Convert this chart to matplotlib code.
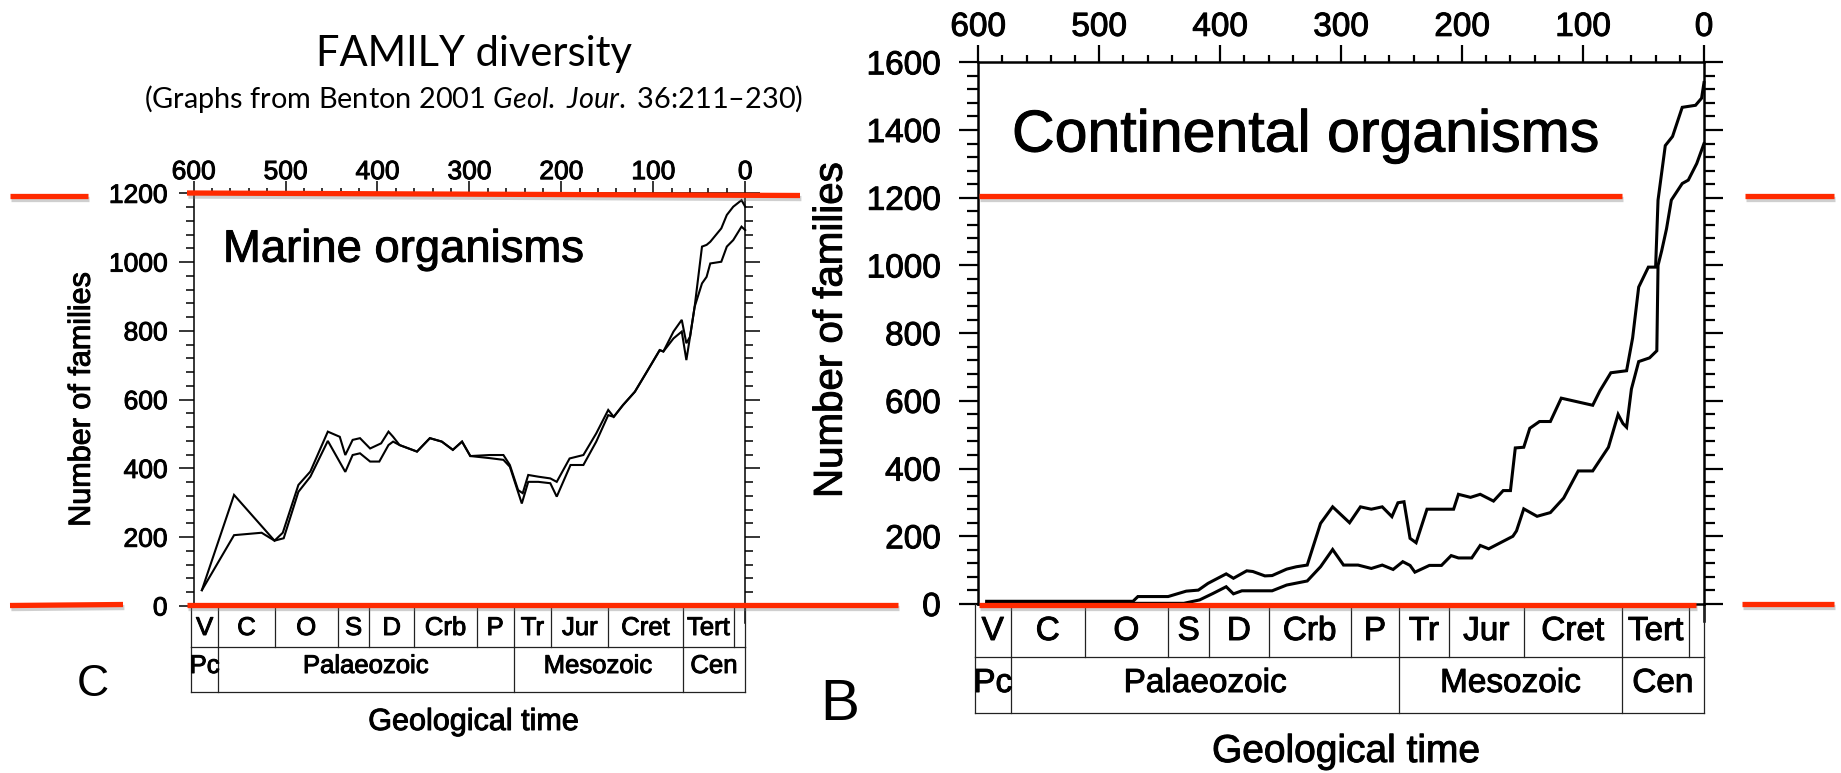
import matplotlib
matplotlib.use("Agg")
import matplotlib.pyplot as plt
from matplotlib.lines import Line2D
from matplotlib.ticker import MultipleLocator
from matplotlib.transforms import blended_transform_factory
import matplotlib.patheffects as pe

# ---------------------------------------------------------------- data
# Marine families (Ma, number of families): upper and lower estimates
marine_upper_ma = [591, 556, 512, 503, 486, 473, 454, 441, 435, 427, 419, 408, 396, 388, 383,
                   376, 357, 343, 330, 318, 308, 299, 278, 263, 256, 247, 242, 236, 225, 212,
                   205, 191, 176, 162, 149, 143, 133, 120, 107, 93, 89, 78, 69, 64, 60, 55,
                   47, 42, 38, 26, 20, 13, 4, 0]
marine_upper_n = [46, 323, 190, 213, 352, 391, 507, 492, 439, 483, 488, 458, 473, 507, 492,
                  468, 449, 488, 478, 454, 478, 436, 439, 439, 410, 337, 328, 381, 376, 371,
                  361, 429, 439, 502, 570, 550, 584, 623, 681, 744, 740, 798, 832, 764, 783, 870,
                  1045, 1050, 1059, 1098, 1137, 1161, 1180, 1161]

marine_lower_ma = [591, 556, 526, 512, 502, 486, 473, 454, 435, 427, 419, 408, 398, 388, 383,
                   376, 357, 343, 330, 318, 308, 299, 278, 263, 256, 243, 236, 225, 212, 205,
                   190, 176, 162, 149, 143, 133, 120, 107, 93, 89, 78, 69, 64, 60, 55, 47, 42,
                   38, 26, 20, 13, 4, 0]
marine_lower_n = [46, 206, 213, 190, 197, 332, 376, 480, 390, 439, 444, 420, 420, 468, 478,
                  468, 449, 488, 478, 454, 478, 436, 430, 425, 405, 298, 361, 361, 357, 318,
                  410, 410, 478, 555, 550, 584, 623, 681, 744, 740, 778, 798, 715, 783, 870, 938,
                  957, 996, 1001, 1045, 1064, 1103, 1093]

# Continental families (Ma, number of families): upper and lower estimates
cont_upper_ma = [593, 472, 468, 443, 428, 418, 410, 395, 389, 378, 373, 363, 357, 345, 337,
                 328, 317, 307, 293, 284, 275, 266, 258, 253, 248, 243, 238, 229, 207, 203,
                 193, 185, 174, 166, 160, 156, 149, 144, 136, 127, 118, 92, 86, 77, 64, 59,
                 54, 46, 40, 38, 32, 26, 18, 7, 2, 0]
cont_upper_n = [8, 8, 22, 22, 38, 41, 61, 89, 76, 98, 96, 83, 84, 103, 110,
                115, 238, 287, 240, 287, 280, 287, 258, 299, 302, 194, 181, 280, 280, 324,
                315, 324, 304, 335, 335, 461, 463, 519, 539, 539, 608, 587, 630, 683, 689, 786,
                936, 995, 995, 1193, 1354, 1381, 1467, 1473, 1494, 1540]

cont_lower_ma = [593, 430, 417, 406, 395, 389, 382, 357, 345, 328, 317, 307, 298, 286, 275,
                 266, 257, 249, 243, 239, 227, 217, 209, 203, 192, 185, 178, 158, 155, 149,
                 138, 127, 116, 104, 92, 79, 71, 67, 64, 60, 54, 45, 39, 38, 35, 31, 27, 18,
                 13, 6, 0]
cont_lower_n = [2, 2, 12, 31, 51, 30, 39, 39, 56, 68, 110, 161, 115, 115, 105,
                115, 102, 125, 114, 94, 114, 114, 143, 136, 136, 173, 163, 200, 216, 281,
                259, 270, 313, 393, 393, 463, 560, 533, 522, 635, 716, 727, 748, 1000, 1043,
                1108, 1193, 1242, 1252, 1301, 1360]

# Geological time scale (Ma boundaries and names)
period_bounds = [603, 573, 512, 443, 409, 360, 292, 252, 211, 149, 68, 12, 0]
period_labels = ["V", "C", "O", "S", "D", "Crb", "P", "Tr", "Jur", "Cret", "Tert", ""]
era_bounds = [603, 573, 252, 68, 0]
era_labels = ["Pc", "Palaeozoic", "Mesozoic", "Cen"]

x_ticks = [600, 500, 400, 300, 200, 100, 0]

# ---------------------------------------------------------------- figure
W, H, DPI = 1841, 773, 100
fig = plt.figure(figsize=(W / DPI, H / DPI), dpi=DPI)
fig.patch.set_facecolor("white")

plt.rcParams["mathtext.fontset"] = "custom"
plt.rcParams["mathtext.rm"] = "Lato"
plt.rcParams["mathtext.it"] = "Lato:italic"

SANS = "Liberation Sans"
RED = "#FF2A00"
# slightly heavier strokes for the printed-figure lettering
INK = [pe.withStroke(linewidth=0.7, foreground="black")]


def fx(px):
    return px / W


def fy(py):
    return 1 - py / H


def panel(box, ymax, upper, lower, st):
    x0, y_top, x1, y_bot = box
    ax = fig.add_axes([fx(x0), fy(y_bot), (x1 - x0) / W, (y_bot - y_top) / H])
    ax.set_xlim(600, 0)
    ax.set_ylim(0, ymax)
    ax.plot(upper[0], upper[1], color="black", lw=st["lw"], solid_joinstyle="miter", clip_on=False)
    ax.plot(lower[0], lower[1], color="black", lw=st["lw"], solid_joinstyle="miter", clip_on=False)

    for sp in ax.spines.values():
        sp.set_linewidth(st["spine"])
    ax.xaxis.tick_top()
    ax.set_xticks(x_ticks)
    ax.set_xticklabels([str(v) for v in x_ticks])
    ax.xaxis.set_minor_locator(MultipleLocator(20))
    ax.yaxis.set_major_locator(MultipleLocator(200))
    ax.yaxis.set_minor_locator(MultipleLocator(40))
    ax.tick_params(axis="x", which="both", top=True, bottom=False, labeltop=True,
                   labelbottom=False, direction="out", width=st["tw"])
    ax.tick_params(axis="x", which="major", length=st["xmaj"], pad=st["xpad"],
                   labelsize=st["fs_tick"])
    ax.tick_params(axis="x", which="minor", length=st["xmin"])
    ax.tick_params(axis="y", which="both", left=True, right=True, labelright=False,
                   direction="out", width=st["tw"])
    ax.tick_params(axis="y", which="major", length=st["ymaj"], pad=st["ypad"],
                   labelsize=st["fs_tick"])
    ax.tick_params(axis="y", which="minor", length=st["ymin"])
    for lab in ax.get_xticklabels() + ax.get_yticklabels():
        lab.set_family(SANS)
        lab.set_path_effects(INK)

    # extension of the right frame below the zero line
    tr = blended_transform_factory(ax.transData, fig.transFigure)
    ax.add_artist(Line2D([0, 0], [fy(y_bot), fy(y_bot + 17)], color="black",
                         lw=st["spine"], transform=tr, clip_on=False))

    # time-scale boxes under the axis
    r0, r1, r2 = st["rows"]
    lw = 0.9
    col = "#222222"
    for yy in (r1, r2):
        ax.add_artist(Line2D([period_bounds[0], 0], [fy(yy), fy(yy)], color=col, lw=lw,
                             transform=tr, clip_on=False))
    for b in period_bounds:
        ax.add_artist(Line2D([b, b], [fy(r0), fy(r1)], color=col, lw=lw,
                             transform=tr, clip_on=False))
    for b in era_bounds:
        ax.add_artist(Line2D([b, b], [fy(r1), fy(r2)], color=col, lw=lw,
                             transform=tr, clip_on=False))
    for i, lab in enumerate(period_labels):
        xc = (period_bounds[i] + period_bounds[i + 1]) / 2
        ax.text(xc, fy(st["base1"]), lab, transform=tr, ha="center", va="baseline",
                fontsize=st["fs_box"], family=SANS, clip_on=False, path_effects=INK)
    for i, lab in enumerate(era_labels):
        xc = (era_bounds[i] + era_bounds[i + 1]) / 2
        ax.text(xc, fy(st["base2"]), lab, transform=tr, ha="center", va="baseline",
                fontsize=st["fs_box"], family=SANS, clip_on=False, path_effects=INK)
    return ax


left_style = dict(lw=1.5, spine=1.1, tw=1.1, xmaj=8.6, xmin=3.8, ymaj=10.8, ymin=5.8,
                  xpad=-2, ypad=8, fs_tick=19, fs_box=18.5,
                  rows=(606, 647, 692), base1=635, base2=673)
right_style = dict(lw=2.2, spine=1.8, tw=1.6, xmaj=12, xmin=5, ymaj=14, ymin=8,
                   xpad=2, ypad=13, fs_tick=24, fs_box=24,
                   rows=(604, 657, 712.5), base1=640, base2=692)

ax_m = panel((193.6, 193.3, 745.2, 606), 1200,
             (marine_upper_ma, marine_upper_n), (marine_lower_ma, marine_lower_n), left_style)
ax_c = panel((978.2, 62.3, 1704.0, 604), 1600,
             (cont_upper_ma, cont_upper_n), (cont_lower_ma, cont_lower_n), right_style)

# ---------------------------------------------------------------- text
fig.text(fx(474), fy(66), "FAMILY diversity", ha="center", va="baseline",
         fontsize=30, family="Lato")
fig.text(fx(474), fy(108), r"(Graphs from Benton 2001 $\it{Geol.\ Jour.}$ 36:211–230)",
         ha="center", va="baseline", fontsize=20.8, family="Lato")

fig.text(fx(223), fy(261.7), "Marine organisms", ha="left", va="baseline",
         fontsize=32.7, family=SANS, path_effects=INK)
fig.text(fx(1012), fy(151.5), "Continental organisms", ha="left", va="baseline",
         fontsize=42.5, family=SANS, path_effects=INK)

fig.text(fx(81.8), fy(400), "Number of families", rotation=90, ha="center", va="center",
         fontsize=22, family=SANS, path_effects=INK)
fig.text(fx(830.7), fy(330), "Number of families", rotation=90, ha="center", va="center",
         fontsize=29, family=SANS, path_effects=INK)

fig.text(fx(472.8), fy(730), "Geological time", ha="center", va="baseline",
         fontsize=22, family=SANS, path_effects=INK)
fig.text(fx(1346), fy(762), "Geological time", ha="center", va="baseline",
         fontsize=28, family=SANS, path_effects=INK)

fig.text(fx(92.6), fy(696), "C", ha="center", va="baseline", fontsize=32, family=SANS)
fig.text(fx(840), fy(720), "B", ha="center", va="baseline", fontsize=42, family=SANS)

# ---------------------------------------------------------------- red guide lines
red_segments = [
    ((10, 195.5), (88, 195.5)),
    ((187, 193), (800, 195.5)),
    ((979, 196), (1622, 196)),
    ((1745, 196), (1834, 196)),
    ((10, 605.5), (123, 604.5)),
    ((187, 605), (898, 605)),
    ((979, 605), (1696, 605)),
    ((1742, 604), (1834, 604)),
]
shadow = [pe.SimpleLineShadow(offset=(1.0, -2.2), shadow_color="#777777", alpha=0.35),
          pe.Normal()]
for (xa, ya), (xb, yb) in red_segments:
    fig.add_artist(Line2D([fx(xa), fx(xb)], [fy(ya), fy(yb)], color=RED, lw=3.8,
                          solid_capstyle="butt", transform=fig.transFigure,
                          path_effects=shadow, zorder=10))

fig.savefig("out.png", dpi=DPI, facecolor="white")
